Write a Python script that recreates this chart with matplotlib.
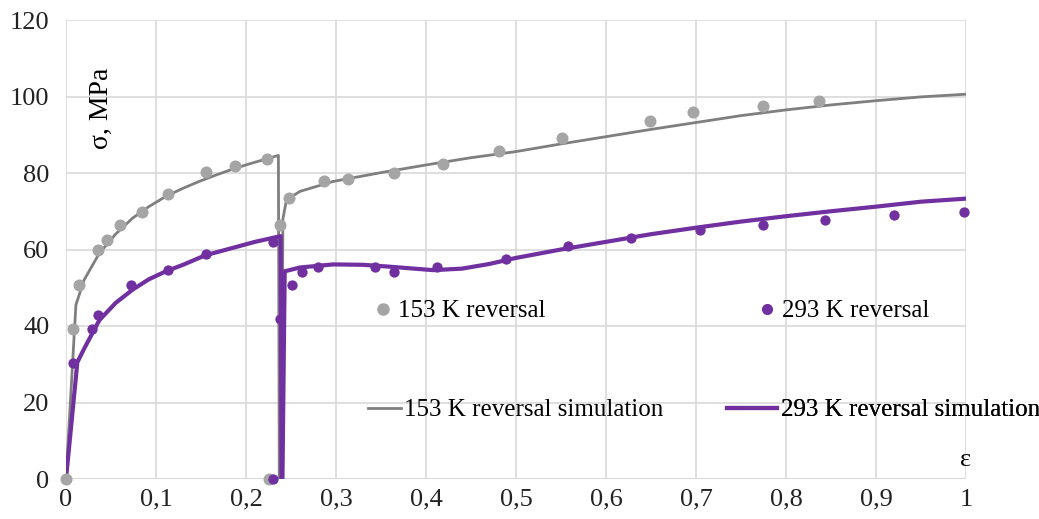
import matplotlib.pyplot as plt
from matplotlib.lines import Line2D

# data
exp153_x = [0, 0.008, 0.014, 0.035, 0.046, 0.06, 0.084, 0.113, 0.155, 0.188, 0.223, 0.226,
            0.238, 0.248, 0.287, 0.313, 0.364, 0.419, 0.481, 0.551, 0.649, 0.697, 0.774, 0.837]
exp153_y = [0, 39.3, 50.7, 59.8, 62.6, 66.4, 69.9, 74.6, 80.3, 81.8, 83.6, 0,
            66.4, 73.5, 77.8, 78.4, 80.0, 82.4, 85.8, 89.2, 93.7, 96.0, 97.5, 98.9]

exp293_x = [0.008, 0.029, 0.036, 0.072, 0.113, 0.155, 0.230, 0.230,
            0.238, 0.251, 0.262, 0.280, 0.343, 0.364, 0.412, 0.489, 0.558, 0.628,
            0.704, 0.774, 0.843, 0.920, 0.998]
exp293_y = [30.4, 39.3, 43.0, 50.7, 54.6, 58.7, 62.0, 0,
            41.7, 50.6, 54.0, 55.3, 55.3, 54.0, 55.3, 57.4, 60.8, 63.1,
            65.0, 66.5, 67.8, 68.9, 69.9]

sim153_x = [0, 0.011, 0.02, 0.037, 0.055, 0.074, 0.092, 0.111, 0.13, 0.148, 0.167, 0.185,
            0.204, 0.223, 0.236, 0.237, 0.2395, 0.241, 0.245, 0.26, 0.297, 0.35, 0.4, 0.45,
            0.5, 0.55, 0.6, 0.65, 0.7, 0.75, 0.8, 0.85, 0.9, 0.95, 1.0]
sim153_y = [0, 45.5, 52, 59, 64, 68.2, 71.2, 73.9, 76, 77.8, 79.5, 81,
            82.4, 83.7, 84.6, 0, 0, 68, 73, 75.2, 77.8, 80.1, 82.1, 84.0,
            85.6, 87.6, 89.5, 91.4, 93.2, 95.0, 96.5, 97.8, 98.9, 99.9, 100.6]

sim293_x = [0, 0.0126, 0.02, 0.037, 0.055, 0.074, 0.092, 0.111, 0.13, 0.155, 0.185, 0.21,
            0.2385, 0.2395, 0.2405, 0.243, 0.26, 0.297, 0.33, 0.36, 0.408, 0.44, 0.47,
            0.5, 0.55, 0.6, 0.65, 0.7, 0.75, 0.8, 0.85, 0.9, 0.95, 1.0]
sim293_y = [0, 30.5, 34, 41.5, 46, 49.5, 52.2, 54.3, 56, 58.5, 60.4, 62,
            63.5, 0, 0, 54.3, 55.3, 56.1, 56.0, 55.5, 54.6, 55.0, 56.2,
            57.8, 60.0, 62.0, 64.0, 65.7, 67.3, 68.7, 70.0, 71.2, 72.5, 73.3]

x_ticks = [0, 0.1, 0.2, 0.3, 0.4, 0.5, 0.6, 0.7, 0.8, 0.9, 1]
x_labels = ['0', '0,1', '0,2', '0,3', '0,4', '0,5', '0,6', '0,7', '0,8', '0,9', '1']
y_ticks = [0, 20, 40, 60, 80, 100, 120]

gray_dot = '#a5a5a5'
gray_line = '#7f7f7f'
purple = '#7030a0'

plt.rcParams['font.family'] = ['Liberation Serif', 'DejaVu Serif']

fig = plt.figure(figsize=(10.39, 5.19), dpi=100)
ax = fig.add_axes([66 / 1039, 40 / 519, 900 / 1039, 459 / 519])

ax.plot(sim153_x, sim153_y, color=gray_line, lw=2.0, zorder=3)
ax.plot(sim293_x, sim293_y, color=purple, lw=3.0, zorder=4)
ax.scatter(exp153_x, exp153_y, s=75, color=gray_dot, zorder=5, linewidths=0, clip_on=False)
ax.scatter(exp293_x, exp293_y, s=55, color=purple, zorder=6, linewidths=0, clip_on=False)

ax.set_xlim(0, 1)
ax.set_ylim(0, 120)
ax.set_xticks(x_ticks)
ax.set_xticklabels(x_labels)
ax.set_yticks(y_ticks)
ax.grid(True, color='#d9d9d9', lw=1.2)
ax.set_axisbelow(True)
for s in ax.spines.values():
    s.set_visible(False)
ax.axhline(0, color='#d9d9d9', lw=1.5, zorder=1)
ax.tick_params(axis='both', length=0, labelsize=19, colors='#222222')
ax.tick_params(axis='y', pad=12)
ax.tick_params(axis='x', pad=7)

ax.text(0.039, 97, 'σ, MPa', rotation=90, fontsize=20, ha='center', va='center')
ax.text(1.0, 2.0, 'ε', fontsize=19, ha='center', va='bottom')

# legend entries, placed one by one like the reference
def entry(handle, label, x, y, hl):
    leg = ax.legend([handle], [label], loc='center left', bbox_to_anchor=(x, y),
                    bbox_transform=fig.transFigure, frameon=False, fontsize=18,
                    handlelength=hl, handletextpad=0.15, borderpad=0, borderaxespad=0)
    ax.add_artist(leg)

entry(Line2D([], [], ls='', marker='o', ms=8, color=gray_dot), '153 K reversal', 372 / 1039, 1 - 311 / 519, 0.9)
entry(Line2D([], [], ls='', marker='o', ms=7, color=purple), '293 K reversal', 756 / 1039, 1 - 311 / 519, 0.9)
entry(Line2D([], [], color=gray_line, lw=2), '153 K reversal simulation', 368 / 1039, 1 - 410 / 519, 1.3)
entry(Line2D([], [], color=purple, lw=3), '293 K reversal simulation', 727 / 1039, 1 - 410 / 519, 2.0)

plt.savefig('out.png', dpi=100)
